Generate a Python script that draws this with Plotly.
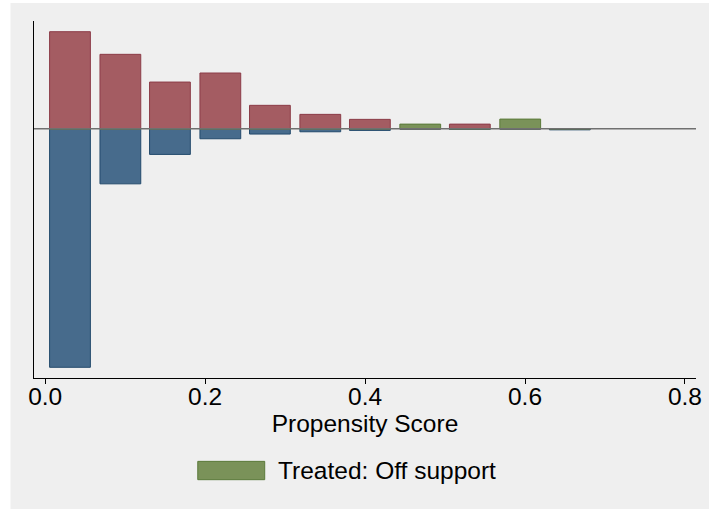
import plotly.graph_objects as go

# centros dos bins do escore de propensao
centros = [0.031, 0.094, 0.156, 0.219, 0.281, 0.344, 0.406, 0.469, 0.531, 0.594, 0.656]

# frequencias (tratados pra cima, nao tratados pra baixo)
tratados_suporte = [20.44, 15.68, 9.85, 11.75, 4.95, 3.05, 2.0, 0, 1.0, 0, 0]
tratados_fora = [0, 0, 0, 0, 0, 0, 0, 1.0, 0, 2.06, 0]
nao_tratados = [-50.15, -11.56, -5.37, -2.08, -1.09, -0.61, -0.32, 0, -0.1, 0, -0.2]

ticks_x = [0.0, 0.2, 0.4, 0.6, 0.8]
nome_legenda = 'Treated: Off support'

fundo = '#efefef'
fonte = 'Liberation Sans, Arial, sans-serif'
tamanho = 24.5


def barras(fig):
    fig.add_trace(go.Bar(x=centros, y=tratados_suporte, width=0.051, name='Treated: On support',
                         marker=dict(color='#a45c62', line=dict(color='#8c3c48', width=1))))
    fig.add_trace(go.Bar(x=centros, y=nao_tratados, width=0.051, name='Untreated',
                         marker=dict(color='#476b8c', line=dict(color='#234a6c', width=1))))
    fig.add_trace(go.Bar(x=centros, y=tratados_fora, width=0.051, name=nome_legenda,
                         marker=dict(color='#7a9259', line=dict(color='#5b7a3a', width=1))))


def layout(fig):
    fig.update_layout(
        width=709, height=509,
        margin=dict(l=33.5, r=13.3, t=21, b=131.3),
        paper_bgcolor=fundo, plot_bgcolor=fundo,
        barmode='overlay', showlegend=False,
        font=dict(family=fonte, size=tamanho, color='black'),
    )
    fig.update_xaxes(range=[-0.014, 0.8138], tickvals=ticks_x, tickformat='.1f',
                     showline=True, linecolor='black', linewidth=1,
                     ticks='outside', ticklen=5, tickcolor='black', ticklabelstandoff=-8,
                     showgrid=False, zeroline=False, automargin=False,
                     title=dict(text='Propensity Score', standoff=3,
                                font=dict(family=fonte, size=tamanho, color='black')))
    fig.update_yaxes(range=[-52.4, 22.69], showticklabels=False, showline=True,
                     linecolor='black', linewidth=1, showgrid=False, zeroline=False,
                     automargin=False)

    # linha do zero por cima das barras
    fig.add_shape(type='line', xref='paper', yref='y', x0=0, x1=1, y0=0, y1=0,
                  line=dict(color='#707070', width=1.5), layer='above')

    # borda branca no topo e na esquerda
    fig.add_shape(type='rect', xref='paper', yref='paper', x0=-0.06, x1=-0.0355, y0=-0.4, y1=1.1,
                  fillcolor='white', line=dict(width=0), layer='below')
    fig.add_shape(type='rect', xref='paper', yref='paper', x0=-0.06, x1=1.05, y0=1.0505, y1=1.1,
                  fillcolor='white', line=dict(width=0), layer='below')

    # legenda feita na mao (caixa larga como no Stata)
    fig.add_shape(type='rect', xref='paper', yref='paper', x0=0.2474, x1=0.3485, y0=-0.2848, y1=-0.2335,
                  fillcolor='#7a9259', line=dict(color='#5b7a3a', width=1))
    fig.add_annotation(text=nome_legenda, xref='paper', yref='paper', x=0.3662, y=-0.2588,
                       xanchor='left', yanchor='middle', showarrow=False,
                       font=dict(family=fonte, size=tamanho, color='black'))


fig = go.Figure()
barras(fig)
layout(fig)
# tira a margem padrao do body pra figura ficar colada no canto
fig.write_html('out.html', config={'displayModeBar': False},
               post_script="document.body.style.margin='0';")
